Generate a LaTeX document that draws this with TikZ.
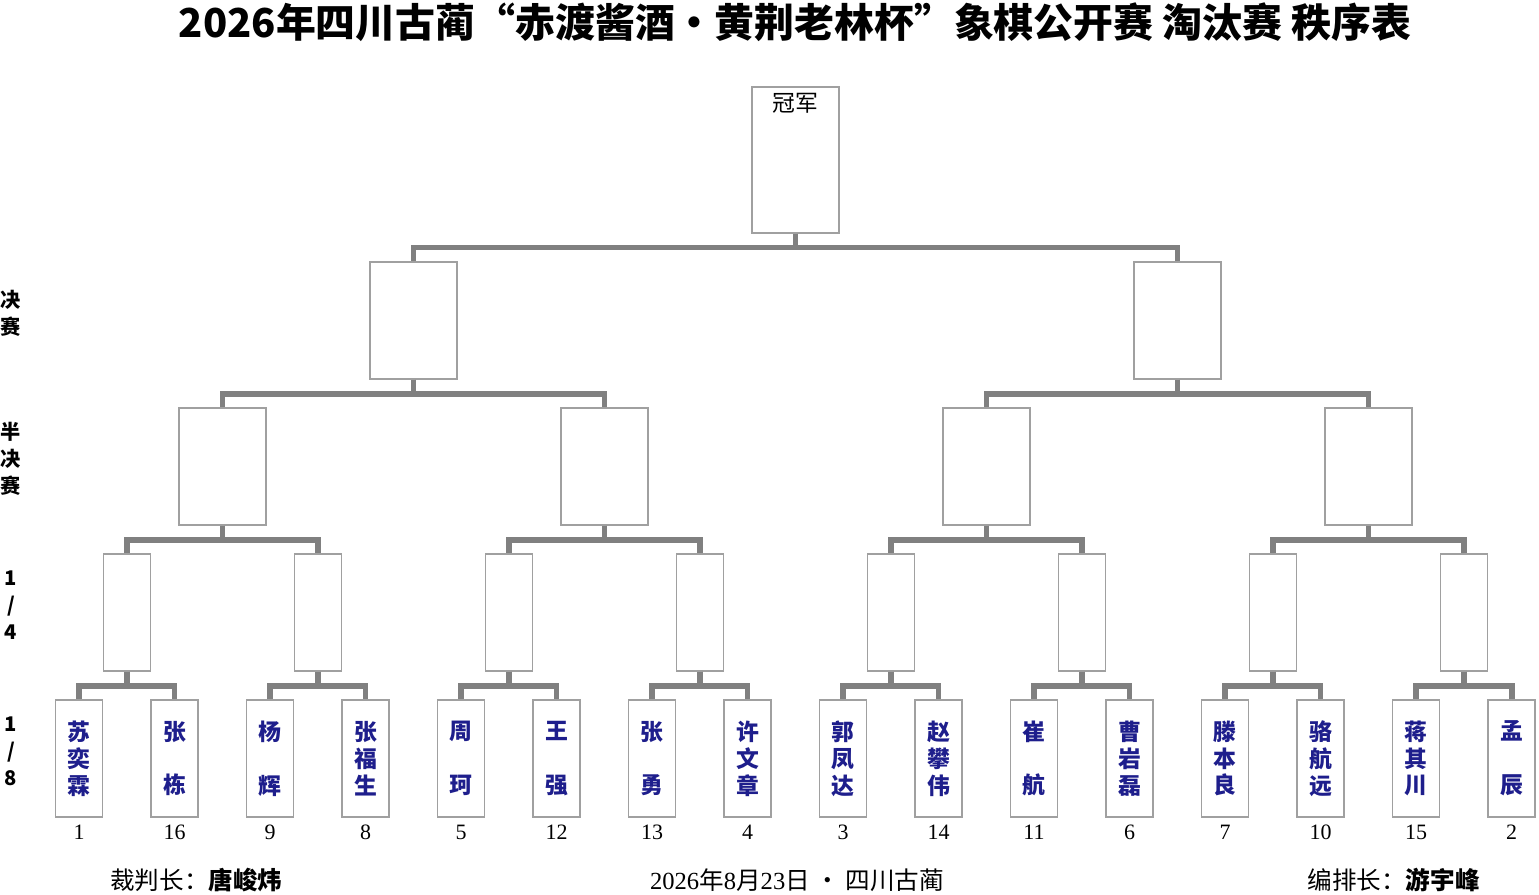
\documentclass[tikz,border=0pt]{standalone}
\usepackage{fontspec}
\setmainfont{Liberation Serif}
\newfontfamily\cjk{Noto Sans CJK SC}
\usepackage{xcolor}
\usepackage{tikz}
\definecolor{BarGray}{HTML}{808080}
\definecolor{BoxGray}{HTML}{A0A0A0}
\definecolor{NameBlue}{HTML}{1E1E8C}
\tikzset{%
  slot/.style={draw=BoxGray, line width=0.6pt, fill=white, inner sep=0pt},%
  wideslot/.style={slot, minimum width=1.74cm, minimum height=2.34cm},%
  narrowslot/.style={slot, minimum width=0.94cm, minimum height=2.34cm, text=NameBlue, align=center, font=\cjk\bfseries\fontsize{13}{15.3}\selectfont},%
  bar/.style={draw=BarGray, line width=3.4pt},%
  seed/.style={font=\fontsize{12.5}{14}\selectfont},%
  roundlabel/.style={align=center, font=\cjk\bfseries\fontsize{11.5}{15.3}\selectfont},%
  footer/.style={font=\fontsize{14}{16}\selectfont, inner sep=0pt},%
}
\begin{document}
\begin{tikzpicture}[x=0.02cm, y=-0.02cm]%
\useasboundingbox (0,0) rectangle (1539,895);%
% title
\node[font=\cjk\bfseries\fontsize{22.7}{25}\selectfont] (title) at (795,22) {2026年四川古蔺“赤渡酱酒•黄荆老林杯”象棋公开赛 淘汰赛 秩序表};%
% round labels
\node[roundlabel] (rF) at (11,313.5) {决\\赛};%
\node[roundlabel] (rS) at (11,459) {半\\决\\赛};%
\node[roundlabel] (rQ) at (11,605) {1\\/\\4};%
\node[roundlabel] (rE) at (11,751) {1\\/\\8};%
% boxes
\node[slot, minimum width=1.74cm, minimum height=2.92cm] (C) at (795.5,160) {};%
\node[font=\cjk\fontsize{13}{15}\selectfont] (Ctext) at (795.5,103) {冠军};%
\foreach \i in {0,1} {\node[wideslot] (F\i) at ({413.5+764*\i},320.5) {};}%
\foreach \i in {0,...,3} {\node[wideslot] (S\i) at ({222.5+382*\i},466.5) {};}%
\foreach \i in {0,...,7} {\node[narrowslot] (Q\i) at ({127+191*\i},612.5) {};}%
\foreach \i/\nm/\sd in {0/{苏\\奕\\霖}/1, 1/{张\\\mbox{}\\栋}/16, 2/{杨\\\mbox{}\\辉}/9, 3/{张\\福\\生}/8,%
  4/{周\\\mbox{}\\珂}/5, 5/{王\\\mbox{}\\强}/12, 6/{张\\\mbox{}\\勇}/13, 7/{许\\文\\章}/4,%
  8/{郭\\凤\\达}/3, 9/{赵\\攀\\伟}/14, 10/{崔\\\mbox{}\\航}/11, 11/{曹\\岩\\磊}/6,%
  12/{滕\\本\\良}/7, 13/{骆\\航\\远}/10, 14/{蒋\\其\\川}/15, 15/{孟\\\mbox{}\\辰}/2} {%
  \node[narrowslot] (L\i) at ({79+95.5*\i},758.5) {\nm};%
  \node[seed] (N\i) at ({79+95.5*\i},832) {\sd};%
}%
% connectors
\foreach \i in {0,1} {\draw[bar] (C.south) -- ++(0,14) -| (F\i.north);}%
\foreach \i in {0,1} {%
  \pgfmathtruncatemacro\a{2*\i}\pgfmathtruncatemacro\b{2*\i+1}%
  \draw[bar] (F\i.south) -- ++(0,14.5) -| (S\a.north);%
  \draw[bar] (F\i.south) -- ++(0,14.5) -| (S\b.north);%
}%
\foreach \i in {0,...,3} {%
  \pgfmathtruncatemacro\a{2*\i}\pgfmathtruncatemacro\b{2*\i+1}%
  \draw[bar] (S\i.south) -- ++(0,14.5) -| (Q\a.north);%
  \draw[bar] (S\i.south) -- ++(0,14.5) -| (Q\b.north);%
}%
\foreach \i in {0,...,7} {%
  \pgfmathtruncatemacro\a{2*\i}\pgfmathtruncatemacro\b{2*\i+1}%
  \draw[bar] (Q\i.south) -- ++(0,14.5) -| (L\a.north);%
  \draw[bar] (Q\i.south) -- ++(0,14.5) -| (L\b.north);%
}%
% footer
\node[footer, anchor=west] (referee) at (110,880) {\cjk 裁判长：\bfseries 唐峻炜};%
\node[footer] (date) at (797,880) {2026\cjk 年\normalfont 8\cjk 月\normalfont 23\cjk 日 • 四川古蔺};%
\node[footer, anchor=east] (arranger) at (1480,880) {\cjk 编排长：\bfseries 游宇峰};%
\end{tikzpicture}
\end{document}
